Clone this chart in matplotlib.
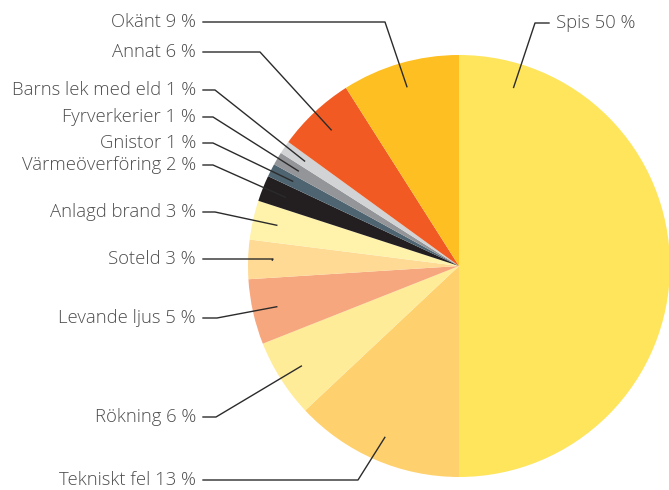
import numpy as np
import matplotlib.pyplot as plt

plt.rcParams['font.family'] = ['Open Sans', 'DejaVu Sans']

labels = ['Spis', 'Tekniskt fel', 'Rökning', 'Levande ljus', 'Soteld', 'Anlagd brand',
          'Värmeöverföring', 'Gnistor', 'Fyrverkerier', 'Barns lek med eld', 'Annat', 'Okänt']
values = [50, 13, 6, 5, 3, 3, 2, 1, 1, 1, 6, 9]
colors = ['#FFE55C', '#FED16E', '#FFEC99', '#F7A77E', '#FEDA94', '#FFF2AB',
          '#231F20', '#4E6470', '#939598', '#D1D3D4', '#F15A22', '#FDBF21']

W, H = 669, 490
cx, cy, R = 459, 266, 211

# label text y (pixels from top) and x of the elbow in the leader line
label_y = [23, 480, 417, 318, 259, 212, 165, 143, 117, 90, 52, 22]
elbow_x = [535, 358, 216, 217, 273, 215, 213, 213, 213, 215, 260, 385]

fig = plt.figure(figsize=(W / 100, H / 100), dpi=100)
ax = fig.add_axes([0, 0, 1, 1])

ax.pie(values, colors=colors, startangle=90, counterclock=False,
       center=(cx, H - cy), radius=R, wedgeprops=dict(linewidth=0))

ax.set_xlim(0, W)
ax.set_ylim(0, H)
ax.set_aspect('equal')
ax.axis('off')

total = sum(values)
cum = np.cumsum([0] + values)
for i, lab in enumerate(labels):
    mid = (cum[i] + cum[i + 1]) / 2 / total * 360
    if i == 0:
        mid = 17  # Spis leader points near the top
    a = np.deg2rad(mid)
    px = cx + 0.885 * R * np.sin(a)
    py = cy - 0.885 * R * np.cos(a)
    ty = label_y[i]
    txt = f'{lab} {values[i]} %'
    if i == 0:
        ax.plot([549, elbow_x[i], px], [H - ty, H - ty, H - py], color='#2b2b2b', lw=1)
        ax.text(556, H - ty, txt, ha='left', va='center', fontsize=13.3,
                color='#4d4d4d', fontweight='light')
    else:
        ax.plot([203, elbow_x[i], px], [H - ty, H - ty, H - py], color='#2b2b2b', lw=1)
        ax.text(196, H - ty, txt, ha='right', va='center', fontsize=13.3,
                color='#4d4d4d', fontweight='light')

fig.savefig('out.png', dpi=100)
